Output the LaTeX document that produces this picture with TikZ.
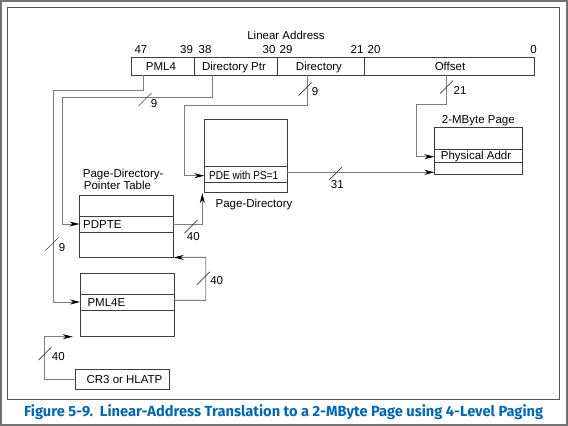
\documentclass[tikz,border=0pt]{standalone}
\usepackage{fontspec}
\setmainfont{Liberation Sans}
\newfontfamily\capfont{Fira Sans}
\usetikzlibrary{arrows.meta}
\definecolor{linegray}{RGB}{125,125,125}
\definecolor{boxgray}{RGB}{60,60,60}
\definecolor{frameouter}{RGB}{115,115,115}
\definecolor{frameinner}{RGB}{85,85,85}
\definecolor{capblue}{RGB}{0,104,181}
\tikzset{
  x=1pt, y=-1pt,
  box/.style={draw=boxgray, line width=0.9pt, inner sep=0pt},
  divider/.style={draw=boxgray, line width=0.7pt},
  conn/.style={draw=linegray, line width=0.9pt},
  arr/.style={-{Stealth[length=10pt,width=5pt,black]}},
  lbl/.style={inner sep=0pt, anchor=base, font=\fontsize{11.5}{12}\selectfont},
  lblw/.style={inner sep=0pt, anchor=base west, font=\fontsize{11.5}{12}\selectfont},
  slashmark/.style={draw=boxgray, line width=0.7pt},
}
\begin{document}
\begin{tikzpicture}
\useasboundingbox (0,0) rectangle (568,426);
% frames
\draw[frameouter, line width=2pt] (1,1) rectangle (567,425);
\draw[frameinner, line width=1.3pt] (7.5,7.5) rectangle (559.5,399.5);

% Linear address bar
\node[lbl] (latitle) at (286,39) {Linear Address};
\node[box, minimum width=403pt, minimum height=18pt] (la) at (332.5,66) {};
\draw[divider] (194,57) -- (194,75);
\draw[divider] (277,57) -- (277,75);
\draw[divider] (364,57) -- (364,75);
\node[lbl] (b47) at (141,53) {47};
\node[lbl] (b39) at (186.5,53) {39};
\node[lbl] (b38) at (205,53) {38};
\node[lbl] (b30) at (269,53) {30};
\node[lbl] (b29) at (286,53) {29};
\node[lbl] (b21) at (357,53) {21};
\node[lbl] (b20) at (374,53) {20};
\node[lbl] (b0) at (533.5,53) {0};
\node[lbl] (fpml4) at (161,70.5) {PML4};
\node[lbl] (fdptr) at (234,70.5) {Directory Ptr};
\node[lbl] (fdir) at (319,70.5) {Directory};
\node[lbl] (foff) at (450,70.5) {Offset};
\coordinate (srcpml4) at (143,75);
\coordinate (srcdptr) at (212.3,75);
\coordinate (srcdir) at (307.7,75);
\coordinate (srcoff) at (446.7,75);

% Page directory
\node[box, minimum width=83pt, minimum height=73.4pt] (pd) at (245.8,156) {};
\draw[divider] (204.3,166.7) -- (287.3,166.7);
\draw[divider] (204.3,182.7) -- (287.3,182.7);
\node[lblw] (pde) at (209,179) {\scalebox{0.875}[1]{PDE with PS=1}};
\node[lbl] (pdtitle) at (254,207) {Page-Directory};

% PDPT
\node[box, minimum width=94pt, minimum height=61.3pt] (pdpt) at (126.3,226.35) {};
\draw[divider] (79.3,216) -- (173.3,216);
\draw[divider] (79.3,232.3) -- (173.3,232.3);
\node[lblw] (pdpte) at (83,228.2) {PDPTE};
\node[lblw, align=left, anchor=north west, font=\fontsize{11.5}{12}\selectfont] (pdpttitle) at (82.7,168.5) {Page-Directory-\\\hspace*{1pt}Pointer Table};

% PML4
\node[box, minimum width=94.3pt, minimum height=62.6pt] (pml4) at (127.15,305) {};
\draw[divider] (80,294) -- (174.3,294);
\draw[divider] (80,310.3) -- (174.3,310.3);
\node[lblw] (pml4e) at (87.3,306.2) {PML4E};

% 2-MByte page
\node[box, minimum width=88pt, minimum height=46.3pt] (pg) at (478.3,150.85) {};
\draw[divider] (434.3,149) -- (522.3,149);
\draw[divider] (434.3,162.3) -- (522.3,162.3);
\node[lblw] (phys) at (440.7,159.8) {Physical Addr};
\node[lbl] (pgtitle) at (478.3,123.3) {2-MByte Page};

% CR3
\node[box, minimum width=94pt, minimum height=20pt] (cr3) at (122.3,379.3) {};
\node[lbl] (cr3t) at (124.5,383.3) {CR3 or HLATP};

% connector end points
\coordinate (inpml4e) at (80,302);
\coordinate (inpdpte) at (79.3,224);
\coordinate (inpde) at (204.3,175.7);
\coordinate (inphys) at (434.3,156.7);
\coordinate (outpdpte) at (173.3,224.3);
\coordinate (outpml4e) at (174.3,300.3);
\coordinate (outpde) at (287.3,172.3);
\coordinate (inpg) at (434.3,172.3);
\coordinate (cr3arr) at (72.7,336.7);

% connectors
\draw[conn, arr] (srcpml4) |- (53,90) |- (inpml4e);
\draw[conn, arr] (srcdptr) |- (62.7,97) |- (inpdpte);
\draw[conn, arr] (srcdir) |- (184,105) |- (inpde);
\draw[conn, arr] (srcoff) |- (416.7,104) |- (inphys);
\draw[conn, arr] (outpdpte) -| (pd.south -| 202.3,0);
\draw[conn, arr] (outpml4e) -| (205.7,257.3) -- (pdpt.south east);
\draw[conn, arr] (outpde) -- (inpg);
\draw[conn, arr] (cr3.west) -| (44.3,336.7) -- (cr3arr);

% slash marks and widths
\foreach \cx/\cy/\tx/\ty/\t in {52/244/62/251/9, 145/99.5/154/107/9, 305/89/315/95/9, 446.7/87/460/94/21, 191/226.7/193.3/240.7/40, 203.3/278.3/216.7/284.5/40, 335.5/173.7/337.3/188/31, 45/353.7/58.3/360/40}{
  \draw[slashmark] (\cx-6.5,\cy+6.5) -- (\cx+6.5,\cy-6.5);
  \node[lbl] at (\tx,\ty) {\t};
}

% caption
\node[inner sep=0pt, anchor=base west, text=capblue] (caption) at (24,416.5)
  {\resizebox{519pt}{!}{\capfont\bfseries Figure 5-9.\ \ Linear-Address Translation to a 2-MByte Page using 4-Level Paging}};
\end{tikzpicture}
\end{document}
